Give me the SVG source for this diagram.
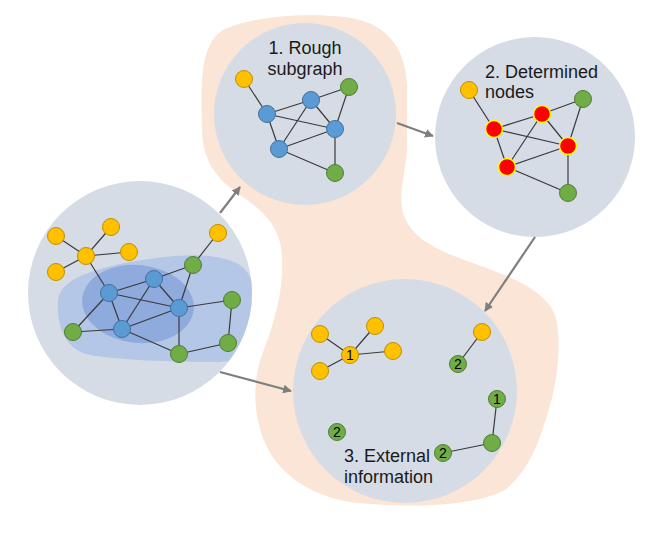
<svg xmlns="http://www.w3.org/2000/svg" width="665" height="554" viewBox="0 0 665 554">
<defs>
<style>
.bg{fill:#d6dce5}
.e{stroke:#3a3a3a;stroke-width:1.2;fill:none}
.y{fill:#ffc000;stroke:#bf9000;stroke-width:1}
.b{fill:#5b9bd5;stroke:#41719c;stroke-width:1}
.g{fill:#70ad47;stroke:#507e32;stroke-width:1}
.r{fill:#ff0000;stroke:#ffff00;stroke-width:1.5}
.lbl{font-family:"Liberation Sans",Arial,sans-serif;font-size:18px;fill:#1a1a1a}
.num{font-family:"Liberation Sans",Arial,sans-serif;font-size:14px;fill:#000;text-anchor:middle}
.arr{stroke:#7f7f7f;stroke-width:2.2;fill:none;marker-end:url(#ah)}
</style>
<marker id="ah" viewBox="0 0 10 10" refX="9" refY="5" markerWidth="4" markerHeight="4" orient="auto" markerUnits="strokeWidth">
<path d="M0,0 L10,5 L0,10 z" fill="#7f7f7f"/>
</marker>
<clipPath id="lc"><circle cx="140" cy="293" r="112"/></clipPath>
</defs>
<rect width="665" height="554" fill="#fff"/>
<path id="blob" d="M 223,30 C 245,18 300,12 345,17 C 385,22 405,45 407,85 L 407,150 C 405,175 398,195 403,213 C 410,235 430,248 470,262 C 510,276 545,290 555,315 C 562,335 558,380 550,405 C 540,440 530,470 505,490 C 470,508 400,508 350,502 C 310,495 280,475 266,445 C 252,415 253,380 262,355 C 275,320 284,290 282,255 C 280,225 262,210 240,195 C 215,178 203,160 202,130 C 201,80 200,45 223,30 Z" fill="#fbe5d6"/>

<g id="input-graph">
<circle class="bg" cx="140" cy="293" r="112"/>
<g clip-path="url(#lc)">
<path d="M 58,300 C 60,280 90,270 130,262 C 170,255 215,250 240,265 C 255,275 258,300 255,330 C 252,355 240,362 215,362 C 170,362 120,360 90,355 C 65,350 56,325 58,300 Z" fill="#b4c7e7"/>
<ellipse cx="138" cy="304" rx="56" ry="39" transform="rotate(6 138 304)" fill="#8faadc"/>
</g>
<g class="e">
<line x1="56" y1="236" x2="86" y2="256"/><line x1="111" y1="227" x2="86" y2="256"/>
<line x1="129" y1="252" x2="86" y2="256"/><line x1="56" y1="272" x2="86" y2="256"/>
<line x1="86" y1="256" x2="109" y2="293"/><line x1="218" y1="233" x2="193" y2="265"/>
<line x1="193" y1="265" x2="154" y2="279"/><line x1="193" y1="265" x2="179" y2="308"/>
<line x1="109" y1="293" x2="154" y2="279"/><line x1="109" y1="293" x2="179" y2="308"/>
<line x1="109" y1="293" x2="122" y2="329"/><line x1="109" y1="293" x2="73" y2="332"/>
<line x1="154" y1="279" x2="122" y2="329"/><line x1="154" y1="279" x2="179" y2="308"/>
<line x1="122" y1="329" x2="179" y2="308"/><line x1="122" y1="329" x2="73" y2="332"/>
<line x1="122" y1="329" x2="179" y2="354"/><line x1="179" y1="308" x2="232" y2="300"/>
<line x1="179" y1="308" x2="179" y2="354"/><line x1="232" y1="300" x2="228" y2="343"/>
<line x1="228" y1="343" x2="179" y2="354"/>
</g>
<circle class="y" cx="56" cy="236" r="8.5"/><circle class="y" cx="111" cy="227" r="8.5"/>
<circle class="y" cx="86" cy="256" r="8.5"/><circle class="y" cx="129" cy="252" r="8.5"/>
<circle class="y" cx="56" cy="272" r="8.5"/><circle class="y" cx="218" cy="233" r="8.5"/>
<circle class="g" cx="193" cy="265" r="8.5"/><circle class="g" cx="232" cy="300" r="8.5"/>
<circle class="g" cx="73" cy="332" r="8.5"/><circle class="g" cx="228" cy="343" r="8.5"/>
<circle class="g" cx="179" cy="354" r="8.5"/>
<circle class="b" cx="109" cy="293" r="8.5"/><circle class="b" cx="154" cy="279" r="8.5"/>
<circle class="b" cx="179" cy="308" r="8.5"/><circle class="b" cx="122" cy="329" r="8.5"/>
</g>

<g id="rough-subgraph">
<circle class="bg" cx="305" cy="114" r="91"/>
<text class="lbl" x="305" y="54" text-anchor="middle">1. Rough</text>
<text class="lbl" x="305" y="75" text-anchor="middle">subgraph</text>
<g class="e">
<line x1="244" y1="79" x2="267" y2="114"/><line x1="267" y1="114" x2="311" y2="100"/>
<line x1="311" y1="100" x2="349" y2="87"/><line x1="349" y1="87" x2="335" y2="129"/>
<line x1="267" y1="114" x2="335" y2="129"/><line x1="311" y1="100" x2="335" y2="129"/>
<line x1="311" y1="100" x2="279" y2="149"/><line x1="267" y1="114" x2="279" y2="149"/>
<line x1="279" y1="149" x2="335" y2="129"/><line x1="279" y1="149" x2="335" y2="173"/>
<line x1="335" y1="129" x2="335" y2="173"/>
</g>
<circle class="y" cx="244" cy="79" r="8.5"/>
<circle class="b" cx="267" cy="114" r="8.5"/><circle class="b" cx="311" cy="100" r="8.5"/>
<circle class="b" cx="335" cy="129" r="8.5"/><circle class="b" cx="279" cy="149" r="8.5"/>
<circle class="g" cx="349" cy="87" r="8.5"/><circle class="g" cx="335" cy="173" r="8.5"/>
</g>

<g id="determined-nodes">
<circle class="bg" cx="535" cy="137" r="100"/>
<text class="lbl" x="485" y="78">2. Determined</text>
<text class="lbl" x="485" y="98">nodes</text>
<g class="e">
<line x1="469" y1="90" x2="494" y2="129"/><line x1="494" y1="129" x2="542" y2="114"/>
<line x1="542" y1="114" x2="583" y2="99"/><line x1="583" y1="99" x2="568" y2="146"/>
<line x1="494" y1="129" x2="568" y2="146"/><line x1="542" y1="114" x2="568" y2="146"/>
<line x1="542" y1="114" x2="507" y2="167"/><line x1="494" y1="129" x2="507" y2="167"/>
<line x1="507" y1="167" x2="568" y2="146"/><line x1="507" y1="167" x2="568" y2="193"/>
<line x1="568" y1="146" x2="568" y2="193"/>
</g>
<circle class="y" cx="469" cy="90" r="8.5"/>
<circle class="r" cx="494" cy="129" r="8.5"/><circle class="r" cx="542" cy="114" r="8.5"/>
<circle class="r" cx="568" cy="146" r="8.5"/><circle class="r" cx="507" cy="167" r="8.5"/>
<circle class="g" cx="583" cy="99" r="8.5"/><circle class="g" cx="568" cy="193" r="8.5"/>
</g>

<g id="external-information">
<circle class="bg" cx="405" cy="391" r="112"/>
<text class="lbl" x="344" y="462">3. External</text>
<text class="lbl" x="344" y="483">information</text>
<g class="e">
<line x1="320" y1="334" x2="350" y2="355"/><line x1="375" y1="326" x2="350" y2="355"/>
<line x1="393" y1="351" x2="350" y2="355"/><line x1="320" y1="371" x2="350" y2="355"/>
<line x1="482" y1="332" x2="458" y2="364"/><line x1="497" y1="399" x2="492" y2="443"/>
<line x1="492" y1="443" x2="443" y2="453"/>
</g>
<circle class="y" cx="320" cy="334" r="8.5"/><circle class="y" cx="375" cy="326" r="8.5"/>
<circle class="y" cx="350" cy="355" r="8.5"/><circle class="y" cx="393" cy="351" r="8.5"/>
<circle class="y" cx="320" cy="371" r="8.5"/><circle class="y" cx="482" cy="332" r="8.5"/>
<circle class="g" cx="458" cy="364" r="8.5"/><circle class="g" cx="497" cy="399" r="8.5"/>
<circle class="g" cx="492" cy="443" r="8.5"/><circle class="g" cx="443" cy="453" r="8.5"/>
<circle class="g" cx="337" cy="432" r="8.5"/>
<text class="num" x="350" y="360">1</text>
<text class="num" x="458" y="369">2</text>
<text class="num" x="497" y="404">1</text>
<text class="num" x="443" y="458">2</text>
<text class="num" x="337" y="437">2</text>
</g>

<g id="connectors">
<line class="arr" x1="220" y1="213" x2="240" y2="187"/>
<line class="arr" x1="397" y1="123" x2="433" y2="136"/>
<line class="arr" x1="535" y1="237" x2="485" y2="311"/>
<line class="arr" x1="220" y1="372" x2="291" y2="391"/>
</g>
</svg>
